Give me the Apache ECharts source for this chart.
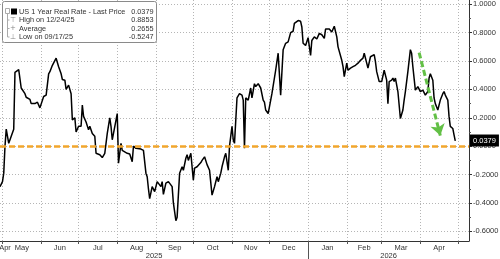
<!DOCTYPE html>
<html>
<head>
<meta charset="utf-8">
<script src="https://cdn.jsdelivr.net/npm/echarts@6/dist/echarts.min.js"></script>
<style>
html,body{margin:0;padding:0;background:#fff;}
#chart{width:500px;height:259px;}
</style>
</head>
<body>
<div id="chart"></div>
<script>
const seriesDates = [
'2025-04-29','2025-05-01','2025-05-02','2025-05-03','2025-05-04','2025-05-06','2025-05-08','2025-05-10','2025-05-11','2025-05-14',
'2025-05-16','2025-05-17','2025-05-19','2025-05-20','2025-05-23','2025-05-24','2025-05-27','2025-05-29','2025-05-31','2025-06-01',
'2025-06-03','2025-06-05','2025-06-07','2025-06-08','2025-06-10','2025-06-13','2025-06-15','2025-06-17','2025-06-18','2025-06-20',
'2025-06-21','2025-06-23','2025-06-25','2025-06-26','2025-06-28','2025-06-29','2025-07-01','2025-07-03','2025-07-04','2025-07-05',
'2025-07-07','2025-07-09','2025-07-10','2025-07-12','2025-07-14','2025-07-15','2025-07-18','2025-07-20','2025-07-22','2025-07-24',
'2025-07-26','2025-07-27','2025-07-28','2025-08-01','2025-08-02','2025-08-04','2025-08-05','2025-08-07','2025-08-09','2025-08-11',
'2025-08-13','2025-08-14','2025-08-16','2025-08-17','2025-08-20','2025-08-22','2025-08-24','2025-08-25','2025-08-26','2025-08-27',
'2025-08-29','2025-08-31','2025-09-02','2025-09-03','2025-09-05','2025-09-06','2025-09-07','2025-09-09','2025-09-11','2025-09-14',
'2025-09-15','2025-09-17','2025-09-18','2025-09-20','2025-09-22','2025-09-23','2025-09-25','2025-09-26','2025-09-27','2025-09-29',
'2025-10-01','2025-10-02','2025-10-04','2025-10-05','2025-10-07','2025-10-08','2025-10-10','2025-10-12','2025-10-14','2025-10-16',
'2025-10-18','2025-10-20','2025-10-21','2025-10-23','2025-10-24','2025-10-26','2025-10-27','2025-10-29','2025-10-30','2025-11-01',
'2025-11-02','2025-11-03','2025-11-05','2025-11-07','2025-11-09','2025-11-10','2025-11-11','2025-11-12','2025-11-14','2025-11-16',
'2025-11-17','2025-11-19','2025-11-20','2025-11-22','2025-11-24','2025-11-26','2025-11-27','2025-11-28','2025-11-30','2025-12-03',
'2025-12-06','2025-12-08','2025-12-10','2025-12-12','2025-12-14','2025-12-16','2025-12-18','2025-12-20','2025-12-21','2025-12-24',
'2025-12-26','2025-12-27','2025-12-28','2025-12-30','2026-01-01','2026-01-03','2026-01-04','2026-01-06','2026-01-08','2026-01-10',
'2026-01-12','2026-01-14','2026-01-15','2026-01-18','2026-01-20','2026-01-22','2026-01-24','2026-01-25','2026-01-28','2026-01-29',
'2026-01-30','2026-02-01','2026-02-02','2026-02-04','2026-02-06','2026-02-08','2026-02-10','2026-02-12','2026-02-14','2026-02-15',
'2026-02-17','2026-02-18','2026-02-20','2026-02-21','2026-02-23','2026-02-24','2026-02-25','2026-02-27','2026-03-01','2026-03-03',
'2026-03-05','2026-03-06','2026-03-07','2026-03-09','2026-03-10','2026-03-11','2026-03-12','2026-03-14','2026-03-15','2026-03-16',
'2026-03-18','2026-03-19','2026-03-20','2026-03-22','2026-03-24','2026-03-25','2026-03-26','2026-03-28','2026-03-29','2026-03-30',
'2026-04-01','2026-04-03','2026-04-04','2026-04-05','2026-04-07','2026-04-08','2026-04-09','2026-04-11','2026-04-12','2026-04-13',
'2026-04-15','2026-04-17','2026-04-19','2026-04-20','2026-04-21','2026-04-23','2026-04-24','2026-04-25','2026-04-27','2026-04-28',
'2026-04-29'
];
const seriesValues = [
-0.285,-0.25,-0.19,0.0,0.12,0.02,0.07,0.12,0.52,0.54,
0.41,0.42,0.37,0.345,0.33,0.30,0.30,0.31,0.27,0.27,
0.35,0.36,0.51,0.525,0.57,0.62,0.56,0.51,0.47,0.465,
0.40,0.43,0.37,0.185,0.20,0.10,0.14,0.14,0.29,0.21,
0.17,0.115,0.14,0.09,0.07,-0.05,-0.06,-0.08,-0.05,0.09,
0.20,0.14,0.045,0.23,-0.12,0.02,-0.03,-0.04,-0.05,-0.055,
-0.11,0.0,-0.015,-0.015,-0.02,-0.03,-0.19,-0.215,-0.30,-0.37,
-0.285,-0.32,-0.25,-0.24,-0.285,-0.25,-0.34,-0.26,-0.25,-0.285,
-0.40,-0.5247,-0.50,-0.19,-0.145,-0.17,-0.085,-0.06,-0.10,-0.05,
-0.24,-0.155,-0.145,-0.135,-0.115,-0.10,-0.075,-0.13,-0.17,-0.345,
-0.285,-0.215,-0.25,-0.19,-0.145,-0.075,-0.05,-0.17,0.0,0.14,
0.045,0.02,0.34,0.37,0.36,0.325,-0.015,0.34,0.325,0.41,
0.34,0.44,0.42,0.44,0.41,0.325,0.31,0.255,0.23,0.37,
0.535,0.655,0.36,0.68,0.725,0.735,0.80,0.81,0.865,0.8853,
0.88,0.84,0.725,0.71,0.765,0.64,0.745,0.77,0.755,0.795,
0.785,0.76,0.825,0.825,0.805,0.845,0.77,0.70,0.605,0.56,
0.49,0.585,0.535,0.55,0.56,0.57,0.585,0.605,0.62,0.655,
0.585,0.55,0.63,0.62,0.645,0.595,0.525,0.455,0.455,0.535,
0.465,0.30,0.455,0.465,0.48,0.455,0.48,0.385,0.395,0.195,
0.255,0.325,0.385,0.525,0.68,0.655,0.56,0.395,0.385,0.42,
0.385,0.395,0.385,0.36,0.385,0.48,0.51,0.465,0.34,0.30,
0.255,0.325,0.37,0.385,0.36,0.325,0.21,0.14,0.125,0.08,
0.0379
];
const axisStart = '2025-04-29';
const axisEnd = '2026-05-10';
const yMin = -0.668, yMax = 1.03;
const yTickValues = [-0.6,-0.4,-0.2,0,0.2,0.4,0.6,0.8,1.0];
const yMinorTickValues = [-0.5,-0.3,-0.1,0.1,0.3,0.5,0.7,0.9];
const monthStarts = ['2025-05-01','2025-06-01','2025-07-01','2025-08-01','2025-09-01','2025-10-01','2025-11-01','2025-12-01','2026-01-01','2026-02-01','2026-03-01','2026-04-01','2026-05-01'];
const monthLabels = ['Apr','May','Jun','Jul','Aug','Sep','Oct','Nov','Dec','Jan','Feb','Mar','Apr'];
const yearStarts = ['2026-01-01'];
const yearLabels = ['2025','2026'];
const legendSymbols = ['', '\u22A4', '+', '\u22A5'];
const legendLabels = ['US 1 Year Real Rate - Last Price','High on 12/24/25','Average','Low on 09/17/25'];
const legendValues = ['0.0379','0.8853','0.2655','-0.5247'];
const lastPriceLabel = '0.0379';
const refLineValue = 0;
const arrowStart = ['2026-03-31', 0.66];
const arrowEnd = ['2026-04-17', 0.075];

const toTs = s => { const p = s.split('-').map(Number); return Date.UTC(p[0], p[1] - 1, p[2]); };
const tMin = toTs(axisStart), tMax = toTs(axisEnd);
const monthTs = monthStarts.map(toTs);
const bounds = [tMin].concat(monthTs).concat([tMax]);
const DAY = 86400000;
const monthLabelPos = monthLabels.map((m, i) => {
  let c = (bounds[i] + bounds[i + 1]) / 2;
  if (i === 0) c = Math.max(c, tMin + 4 * DAY);
  return c;
});
const monthLabelMap = {};
monthLabelPos.forEach((p, i) => monthLabelMap[Math.round(p)] = monthLabels[i]);
const yearTs = yearStarts.map(toTs);
const yb = [tMin].concat(yearTs).concat([tMax]);
const yearLabelPos = yearLabels.map((y, i) => (yb[i] + yb[i + 1]) / 2);
const yearLabelMap = {};
yearLabelPos.forEach((p, i) => yearLabelMap[Math.round(p)] = yearLabels[i]);

const FONT = 'Liberation Sans';
const TXT = '#333';
const gridLine = { show: true, lineStyle: { color: '#b5b5b5', type: [1, 2], width: 1 } };

const chart = echarts.init(document.getElementById('chart'), null, { renderer: 'canvas' });

const legendGraphics = [
  { type: 'rect', shape: { x: 2.5, y: 1.5, width: 154, height: 41, r: 2 }, style: { fill: '#fff', stroke: '#8a8a8a', lineWidth: 1 }, z: 100 },
  { type: 'rect', shape: { x: 5.5, y: 8.5, width: 4, height: 5 }, style: { fill: 'none', stroke: '#aaa', lineWidth: 1 }, z: 101 },
  { type: 'rect', shape: { x: 11, y: 8.5, width: 6, height: 6 }, style: { fill: '#000' }, z: 101 },
  { type: 'polyline', shape: { points: [[7.5, 14], [7.5, 37], [9.5, 37]] }, style: { stroke: '#aaa', fill: null, lineWidth: 1 }, z: 101 },
  { type: 'line', shape: { x1: 7.5, y1: 20, x2: 9.5, y2: 20 }, style: { stroke: '#aaa', lineWidth: 1 }, z: 101 },
  { type: 'line', shape: { x1: 7.5, y1: 28.5, x2: 9.5, y2: 28.5 }, style: { stroke: '#aaa', lineWidth: 1 }, z: 101 }
];
const rowY = [11.5, 20, 28.5, 37];
legendLabels.forEach((t, i) => {
  if (legendSymbols[i]) {
    legendGraphics.push({ type: 'text', x: 13, y: rowY[i], z: 102,
      style: { text: legendSymbols[i], fontSize: 7, fontFamily: 'DejaVu Sans', fill: '#888', align: 'center', verticalAlign: 'middle' } });
  }
  legendGraphics.push({ type: 'text', x: 19, y: rowY[i], z: 102,
    style: { text: t, fontSize: 7.3, fontFamily: FONT, fill: TXT, align: 'left', verticalAlign: 'middle' } });
  legendGraphics.push({ type: 'text', x: 153.5, y: rowY[i], z: 102,
    style: { text: legendValues[i], fontSize: 7.3, fontFamily: FONT, fill: TXT, align: 'right', verticalAlign: 'middle' } });
});

const option = {
  animation: false,
  backgroundColor: '#fff',
  textStyle: { fontFamily: FONT },
  grid: { left: 0, right: 31, top: 0, bottom: 18, containLabel: false, outerBoundsMode: 'none' },
  xAxis: [
    {
      type: 'value', min: tMin, max: tMax, position: 'bottom',
      axisLine: { show: true, onZero: false, lineStyle: { color: '#333', width: 1 } },
      axisTick: { show: true, customValues: monthTs, length: 3, lineStyle: { color: '#555' } },
      axisLabel: { show: false },
      splitLine: gridLine
    },
    {
      type: 'value', min: tMin, max: tMax, position: 'bottom',
      axisLine: { show: false, onZero: false },
      axisTick: { show: false },
      splitLine: { show: false },
      axisLabel: {
        show: true, customValues: monthLabelPos, margin: 2.5, fontSize: 7.5, color: TXT, fontFamily: FONT,
        formatter: v => monthLabelMap[Math.round(v)] || ''
      }
    },
    {
      type: 'value', min: tMin, max: tMax, position: 'bottom',
      axisLine: { show: false, onZero: false },
      axisTick: { show: true, customValues: yearTs, length: 18, lineStyle: { color: '#555' } },
      splitLine: { show: false },
      axisLabel: {
        show: true, customValues: yearLabelPos, margin: 10.5, fontSize: 7.5, color: TXT, fontFamily: FONT,
        formatter: v => yearLabelMap[Math.round(v)] || ''
      }
    }
  ],
  yAxis: [
    {
      type: 'value', position: 'right', min: yMin, max: yMax,
      axisLine: { show: true, onZero: false, lineStyle: { color: '#333', width: 1 } },
      axisTick: { show: true, customValues: yTickValues, length: 3, lineStyle: { color: '#333' } },
      axisLabel: { show: true, customValues: yTickValues, margin: 4, fontSize: 7.5, color: TXT, fontFamily: FONT,
        formatter: v => v.toFixed(4) },
      splitLine: gridLine
    },
    {
      type: 'value', position: 'right', min: yMin, max: yMax,
      axisLine: { show: false, onZero: false },
      axisTick: { show: true, customValues: yMinorTickValues, length: 2, lineStyle: { color: '#555' } },
      axisLabel: { show: false },
      splitLine: { show: false }
    }
  ],
  series: [
    {
      name: 'US 1 Year Real Rate - Last Price',
      type: 'line',
      xAxisIndex: 0, yAxisIndex: 0,
      data: seriesDates.map((d, i) => [toTs(d), seriesValues[i]]),
      showSymbol: false, symbol: 'none',
      lineStyle: { color: '#000', width: 1.5 },
      z: 3,
      markLine: {
        silent: true,
        symbol: ['none', 'none'],
        data: [
          {
            yAxis: refLineValue,
            lineStyle: { color: '#f2a62c', width: 2.5, type: [6, 3], opacity: 1 },
            label: { show: false }
          },
          [
            { coord: [toTs(arrowStart[0]), arrowStart[1]], symbol: 'none',
              lineStyle: { color: '#63c046', width: 3, type: [6, 3] }, label: { show: false } },
            { coord: [toTs(arrowEnd[0]), arrowEnd[1]], symbol: 'arrow', symbolSize: [11, 11] }
          ],
          {
            yAxis: seriesValues[seriesValues.length - 1],
            lineStyle: { color: 'rgba(0,0,0,0)', width: 0 },
            label: {
              show: true, position: 'end', distance: 1, formatter: lastPriceLabel,
              backgroundColor: '#000', color: '#fff', fontSize: 7.5, fontFamily: FONT,
              padding: [2, 3, 2, 3]
            }
          }
        ]
      }
    }
  ],
  graphic: legendGraphics
};
chart.setOption(option);
</script>
</body>
</html>
